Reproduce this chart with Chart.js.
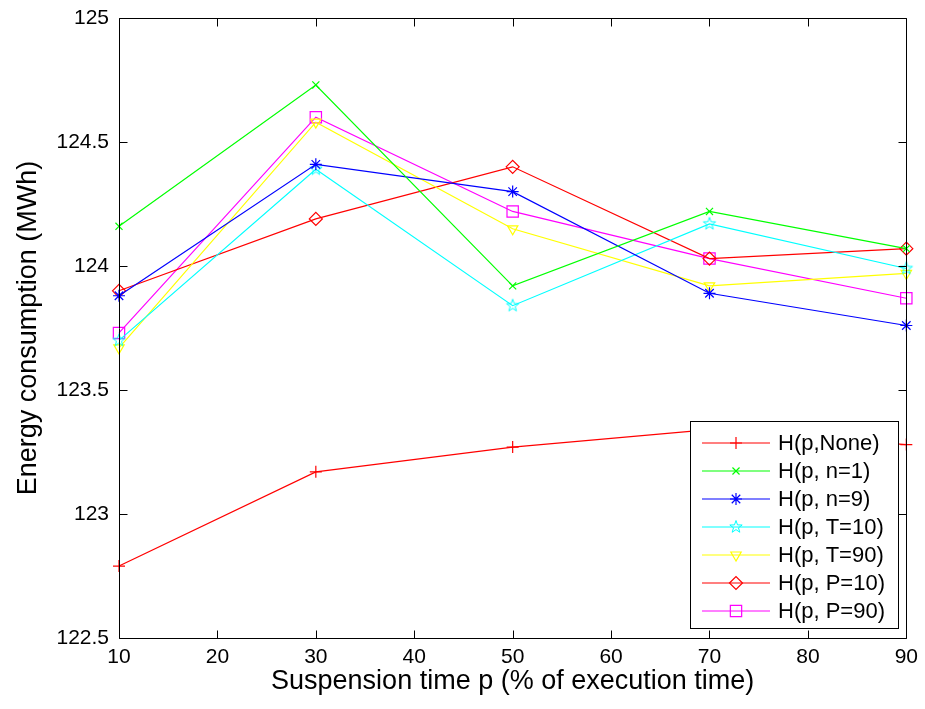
<!DOCTYPE html>
<html>
<head>
<meta charset="utf-8">
<script src="https://cdn.jsdelivr.net/npm/chart.js@4/dist/chart.umd.min.js"></script>
<style>
  html, body { margin: 0; padding: 0; background: #fff; }
  #wrap { width: 925px; height: 709px; }
</style>
</head>
<body>
<div id="wrap"><canvas id="mycanvas" width="925" height="709"></canvas></div>
<script>
// suspension time p (% of execution time)
var pValues = [10, 30, 50, 70, 90];
var yTicks = [122.5, 123, 123.5, 124, 124.5, 125];
var xTicks = [10, 20, 30, 40, 50, 60, 70, 80, 90];

// energy consumption (MWh) per heuristic
var hNone = [122.79, 123.17, 123.27, 123.34, 123.28];
var hN1   = [124.16, 124.73, 123.92, 124.22, 124.07];
var hN9   = [123.88, 124.41, 124.30, 123.89, 123.76];
var hT10  = [123.70, 124.39, 123.84, 124.17, 123.99];
var hT90  = [123.67, 124.58, 124.15, 123.92, 123.97];
var hP10  = [123.90, 124.19, 124.40, 124.03, 124.07];
var hP90  = [123.73, 124.60, 124.22, 124.03, 123.87];

var FONT = '"Liberation Sans", Arial, Helvetica, sans-serif';

// pentagram marker (no built-in one in chart.js)
function makePentagram(color) {
  var c = document.createElement('canvas');
  c.width = 16; c.height = 16;
  var g = c.getContext('2d');
  g.strokeStyle = color;
  g.lineWidth = 1;
  g.beginPath();
  for (var i = 0; i < 10; i++) {
    var r = (i % 2 === 0) ? 6.5 : 2.6;
    var a = -Math.PI / 2 + i * Math.PI / 5;
    var px = 8 + r * Math.cos(a), py = 8 + r * Math.sin(a);
    if (i === 0) g.moveTo(px, py); else g.lineTo(px, py);
  }
  g.closePath();
  g.stroke();
  return c;
}
var pentagram = makePentagram('#00ffff');

function toPoints(vals) {
  var out = [];
  for (var i in vals) out.push({ x: pValues[i], y: vals[i] });
  return out;
}

function series(label, vals, color, style, radius, rot) {
  return {
    label: label,
    data: toPoints(vals),
    borderColor: color,
    backgroundColor: color,
    borderWidth: 1.2,
    pointStyle: style,
    pointRadius: radius,
    pointHoverRadius: radius,
    pointRotation: rot || 0,
    pointBorderColor: color,
    pointBackgroundColor: 'rgba(0,0,0,0)',
    pointBorderWidth: 1.2,
    tension: 0,
    clip: false
  };
}

var datasets = [
  series('H(p,None)', hNone, '#ff0000', 'cross', 6),
  series('H(p, n=1)', hN1, '#00ff00', 'crossRot', 5),
  series('H(p, n=9)', hN9, '#0000ff', 'star', 6),
  series('H(p, T=10)', hT10, '#00ffff', pentagram, 6),
  series('H(p, T=90)', hT90, '#ffff00', 'triangle', 6, 180),
  series('H(p, P=10)', hP10, '#ff0000', 'rectRot', 6.5),
  series('H(p, P=90)', hP90, '#ff00ff', 'rect', 8)
];

// box + inward ticks on all four sides, matlab style
var framePlugin = {
  id: 'frame',
  afterDatasetsDraw: function(chart) {
    var ctx = chart.ctx, a = chart.chartArea;
    var xs = chart.scales.x, ys = chart.scales.y;
    ctx.save();
    ctx.strokeStyle = '#000';
    ctx.lineWidth = 1;
    ctx.beginPath();
    var L = Math.round(a.left) + 0.5, R = Math.round(a.right) + 0.5;
    var T = Math.round(a.top) + 0.5, B = Math.round(a.bottom) + 0.5;
    ctx.rect(L, T, R - L, B - T);
    xTicks.forEach(function(v) {
      var px = Math.round(xs.getPixelForValue(v)) + 0.5;
      ctx.moveTo(px, B); ctx.lineTo(px, B - 8);
      ctx.moveTo(px, T); ctx.lineTo(px, T + 8);
    });
    yTicks.forEach(function(v) {
      var py = Math.round(ys.getPixelForValue(v)) + 0.5;
      ctx.moveTo(L, py); ctx.lineTo(L + 8, py);
      ctx.moveTo(R, py); ctx.lineTo(R - 8, py);
    });
    ctx.stroke();
    ctx.restore();
  }
};

// legend box inside the plot, bottom right
var legendPlugin = {
  id: 'innerLegend',
  afterDraw: function(chart) {
    var ctx = chart.ctx;
    var bx = 690.5, by = 421.5, bw = 208, bh = 207;
    ctx.save();
    ctx.fillStyle = '#fff';
    ctx.fillRect(bx, by, bw, bh);
    ctx.strokeStyle = '#000';
    ctx.lineWidth = 1;
    ctx.strokeRect(bx, by, bw, bh);
    ctx.font = '22px ' + FONT;
    ctx.textBaseline = 'middle';
    ctx.textAlign = 'left';
    chart.data.datasets.forEach(function(ds, i) {
      var cy = 443 + i * 28;
      ctx.strokeStyle = ds.borderColor;
      ctx.lineWidth = 1.2;
      ctx.beginPath();
      ctx.moveTo(702, cy); ctx.lineTo(770, cy);
      ctx.stroke();
      ctx.fillStyle = 'rgba(0,0,0,0)';
      if (Chart.helpers && Chart.helpers.drawPoint) {
        Chart.helpers.drawPoint(ctx, {
          pointStyle: ds.pointStyle,
          radius: ds.pointRadius,
          rotation: ds.pointRotation,
          borderWidth: 1.2
        }, 736, cy);
      }
      ctx.fillStyle = '#000';
      ctx.fillText(ds.label, 778, cy + 1);
    });
    ctx.restore();
  }
};

var ctx = document.getElementById('mycanvas');

var lineGraph = new Chart(ctx, {
  type: 'line',
  data: { datasets: datasets },
  plugins: [framePlugin, legendPlugin],
  options: {
    responsive: false,
    animation: false,
    events: [],
    layout: { padding: { top: 18, right: 18, left: 0, bottom: 0 } },
    plugins: {
      legend: { display: false },
      tooltip: { enabled: false }
    },
    scales: {
      x: {
        type: 'linear',
        min: 10,
        max: 90,
        afterBuildTicks: function(s) { s.ticks = xTicks.map(function(v) { return { value: v }; }); },
        afterFit: function(s) { s.height = 71; },
        grid: { display: false, drawTicks: false },
        border: { display: false },
        ticks: {
          color: '#000',
          font: { family: FONT, size: 21 },
          padding: 7,
          maxRotation: 0
        },
        title: {
          display: true,
          text: 'Suspension time p (% of execution time)',
          color: '#000',
          font: { family: FONT, size: 27 },
          padding: { top: 0, bottom: 11 }
        }
      },
      y: {
        type: 'linear',
        min: 122.5,
        max: 125,
        afterBuildTicks: function(s) { s.ticks = yTicks.map(function(v) { return { value: v }; }); },
        afterFit: function(s) { s.width = 119; s.paddingTop = 0; s.paddingBottom = 0; },
        grid: { display: false, drawTicks: false },
        border: { display: false },
        ticks: {
          color: '#000',
          font: { family: FONT, size: 21 },
          padding: 10,
          callback: function(v) { return String(v); }
        },
        title: {
          display: true,
          text: 'Energy consumption (MWh)',
          color: '#000',
          font: { family: FONT, size: 27 },
          padding: { top: 12, bottom: 0 }
        }
      }
    }
  }
});
</script>
</body>
</html>
